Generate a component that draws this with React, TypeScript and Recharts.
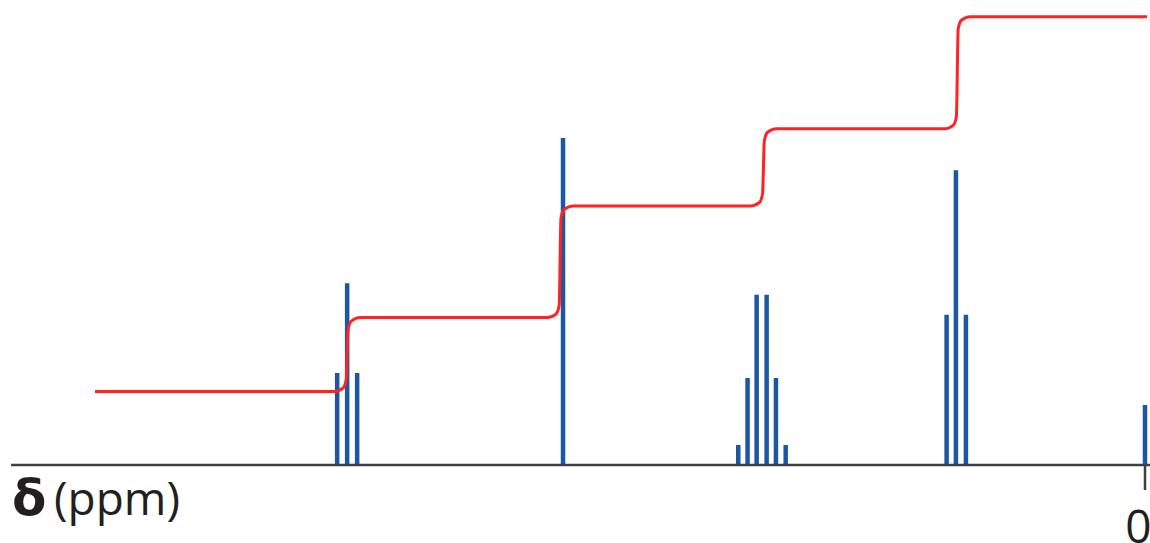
import React from "react";
import { ComposedChart, Line, XAxis, YAxis } from "recharts";

// Peak positions (ppm) and heights (arbitrary intensity units, 0-100)
const peakPpm = [3.559, 3.515, 3.471, 2.564, 1.792, 1.751, 1.711, 1.667, 1.626, 1.583, 0.874, 0.833, 0.789, 0];
const peakHeight = [19.8, 39.1, 19.8, 70.3, 4.3, 18.7, 36.6, 36.6, 18.7, 4.3, 32.3, 63.4, 32.3, 12.9];

// Integration curve (ppm, level)
const integralPpm = [
  4.626,
  3.572, 3.533, 3.519, 3.511, 3.497, 3.458,
  2.634, 2.595, 2.581, 2.573, 2.559, 2.52,
  1.738, 1.699, 1.685, 1.677, 1.663, 1.624,
  0.884, 0.845, 0.831, 0.823, 0.809, 0.77,
  -0.009,
];
const integralLevel = [
  15.8,
  15.8, 16.55, 18.4, 29.1, 30.95, 31.7,
  31.7, 32.45, 34.3, 53.1, 54.95, 55.7,
  55.7, 56.45, 58.3, 69.7, 71.55, 72.3,
  72.3, 73.05, 74.9, 93.8, 95.65, 96.4,
  96.4,
];

const xTicks = [0];
const xDomain = [-0.022, 4.996];
const yDomain = [0, 100];

const peakData: { ppm: number; v: number | null }[] = [];
peakPpm.forEach((p, i) => {
  peakData.push({ ppm: p, v: 0 });
  peakData.push({ ppm: p, v: peakHeight[i] });
  peakData.push({ ppm: p, v: null });
});

const integralData = integralPpm.map((p, i) => ({ ppm: p, v: integralLevel[i] }));

const AxisTitle = () => (
  <text x={12} y={515} fill="#231f20">
    <tspan fontFamily="'DejaVu Sans', sans-serif" fontWeight="bold" fontSize={50}>δ</tspan>
    <tspan x={54} fontFamily="'Open Sans', sans-serif" fontSize={46}>(ppm)</tspan>
  </text>
);

export default function App() {
  return (
    <div style={{ position: "absolute", left: 0, top: 0, width: 1150, height: 543, background: "#fff" }}>
      <ComposedChart width={1150} height={543} margin={{ top: 0, right: 0, left: 11, bottom: 0 }}>
        <XAxis
          type="number"
          dataKey="ppm"
          domain={xDomain}
          reversed
          allowDataOverflow
          ticks={xTicks}
          tickSize={25}
          tickMargin={20}
          height={78}
          axisLine={{ stroke: "#3f3f3f", strokeWidth: 2.5 }}
          tickLine={{ stroke: "#3f3f3f", strokeWidth: 2.5 }}
          tick={{ fontSize: 46, fill: "#231f20", fontFamily: "'Open Sans', sans-serif" }}
          label={{ content: () => <AxisTitle /> }}
        />
        <YAxis type="number" domain={yDomain} hide width={0} allowDataOverflow />
        <Line
          data={peakData}
          dataKey="v"
          type="linear"
          stroke="#1d57a3"
          strokeWidth={4.5}
          dot={false}
          activeDot={false}
          connectNulls={false}
          isAnimationActive={false}
        />
        <Line
          data={integralData}
          dataKey="v"
          type="monotone"
          stroke="#ff2323"
          strokeWidth={3}
          dot={false}
          activeDot={false}
          isAnimationActive={false}
        />
      </ComposedChart>
    </div>
  );
}
